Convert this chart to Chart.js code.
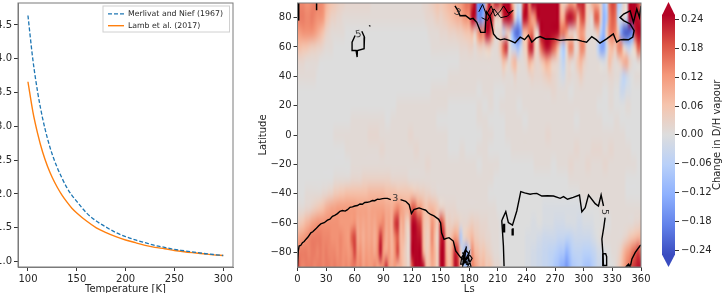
<!DOCTYPE html>
<html>
<head>
<meta charset="utf-8">
<title>D/H fractionation</title>
<script src="https://cdn.jsdelivr.net/npm/chart.js@4"></script>
<style>
  html, body { margin: 0; padding: 0; background: #fff; overflow: hidden; }
  canvas { position: absolute; top: 0; }
</style>
</head>
<body>
<canvas id="ratioChart" width="250" height="293" style="left:0"></canvas>
<canvas id="mapChart" width="415" height="293" style="left:250px"></canvas>
<canvas id="barChart" width="73" height="293" style="left:650px"></canvas>
<script>
// fractionation factor curves
const temperatures = [100,105,110,115,120,125,130,135,140,145,150,160,170,180,190,200,210,220,230,240,250,260,270,280,290,300];
const merlivat = [4.64,3.99,3.50,3.12,2.82,2.58,2.39,2.23,2.09,1.98,1.89,1.72,1.60,1.51,1.43,1.37,1.32,1.28,1.24,1.21,1.18,1.16,1.14,1.12,1.105,1.09];
const lamb = [3.66,3.22,2.89,2.62,2.41,2.24,2.10,1.98,1.88,1.79,1.72,1.60,1.50,1.43,1.37,1.32,1.28,1.24,1.21,1.19,1.165,1.146,1.13,1.115,1.10,1.09];
const tempTicks = [100,150,200,250,300];
const ratioTicks = [1,1.5,2,2.5,3,3.5,4,4.5];

// change in D/H vapour, in hundredths
// polar rows hold a value every 3 deg of Ls, the quiet middle rows every 6 deg
const lsRange = [0,360];
const latNodes = [-90,-80,-70,-60,-50,-40,-30,-20,-10,0,10,20,30,40,50,60,70,80,90];
const rowS90 = [22,15,14,15,15,15,14,15,15,14, 15,15,14,15,14,14,13,14,13,15, 15,13,14,11,13,12,12,14,11,12, 14,22,12,10,12,8,9,6,4,2, 18,25,25,25,24,8,6,10,8,4, 24,25,12,6,12,24,22,6,-6,-10, -4,14,12,9,7,8,5,6,4,2, 2,1,0,0,0,0,0,0,0,0, -1,-1,-2,-2,-3,-3,-4,-4,-5,-6, -8,-9,-12,-13,-16,-12,-8,-7,-6,-6, -8,-9,-9,-7,-5,-3,-3,-2,0,0, 0,1,3,6,10,14,16,20,22,24, 24];
const rowS80 = [14,15,15,15,14,15,15,14,15,14, 15,14,14,14,13,14,13,13,12,14, 20,12,13,10,12,11,12,10,14,24, 12,10,12,8,13,20,9,6,3,2, 25,25,25,25,10,4,6,12,8,4, 24,25,10,6,12,23,20,4,-8,-14, -4,14,8,7,5,6,4,3,2,1, 1,0,0,0,0,0,0,0,0,0, -1,-1,-2,-2,-3,-3,-4,-4,-5,-5, -6,-7,-8,-8,-12,-9,-6,-5,-5,-5, -6,-6,-6,-5,-4,-2,-2,-1,0,0, 1,1,2,4,8,11,13,16,18,21, 16];
const rowS70 = [10,11,12,13,14,15,15,15,15,14, 14,14,13,13,13,14,13,12,12,18, 20,10,11,9,11,10,11,9,13,22, 14,9,11,8,14,18,8,8,4,2, 24,25,24,23,8,4,5,14,7,3, 22,24,8,5,8,12,10,-8,2,4, 6,8,5,4,3,3,2,2,1,1, 1,0,0,0,0,0,0,0,0,0, -1,-1,-1,-1,-2,-2,-3,-3,-3,-3, -3,-4,-4,-4,-5,-5,-4,-3,-3,-3, -3,-3,-3,-2,-1,0,1,1,1,1, 1,1,1,1,2,3,5,6,7,8, 8];
const rowS60 = [4,5,6,8,9,11,12,13,13,13, 13,13,13,13,13,12,12,12,12,12, 13,10,11,10,11,10,11,10,12,13, 14,10,11,9,20,22,9,10,4,5, 24,25,22,20,8,5,6,13,9,5, 20,16,4,4,3,4,4,2,2,2, 3,4,3,3,2,2,2,1,1,1, 1,0,0,0,0,0,0,0,0,0, 0,0,-1,-1,0,0,-1,-1,-1,-1, -2,-2,-2,-2,-1,-1,-1,-1,-2,-2, -1,-1,-1,-1,0,0,0,0,0,0, 1,1,1,1,1,1,1,1,2,2, 3];
const rowS50 = [1,1,1,2,2,3,4,5,6,7, 9,10,11,11,12,12,12,12,12,12, 12,11,11,11,11,10,11,11,11,11, 11,10,10,9,12,14,12,10,9,10, 18,18,12,12,8,6,8,8,7,5, 3,3,2,2,2,2,1,1,1,1, 1,1,1,1,1,1,1,1,1,1, 0,0,0,0,0,0,0,0,0,0, 0,0,0,0,0,0,-1,-1,-1,-1, -1,-1,-1,-1,-1,-1,-1,-1,-1,-1, 0,0,0,0,0,0,1,1,1,1, 1,1,1,1,1,1,1,1,1,1, 1];
const rowS40 = [0,0,1,1,1,2,3,5,6,7, 7,7,7,8,8,8,7,7,6,6, 6,5,4,3,2,1,1,1,1,1, 1,1,1,1,0,0,0,0,0,0, 0,0,0,0,0,0,0,0,0,0, 1,1,1,1,1,1,1,1,0,0, 0];
const rowS30 = [0,0,0,0,0,0,0,1,1,1, 2,2,3,3,3,3,3,2,2,2, 1,1,1,1,1,1,1,1,1,1, 1,1,1,1,1,0,0,0,0,0, 0,0,0,0,0,0,0,0,1,1, 1,1,1,1,1,1,1,1,0,0, 0];
const rowS20 = [0,0,0,0,0,0,0,0,0,0, 1,1,1,1,1,1,1,1,1,1, 1,1,1,2,1,1,1,1,1,1, 1,1,0,1,1,1,0,0,0,0, 0,0,1,1,1,0,1,1,2,1, 1,2,1,1,2,1,1,1,1,1, 0];
const rowS10 = [0,0,0,0,0,0,0,0,0,1, 1,1,1,1,1,2,1,1,1,1, 1,2,1,1,1,1,1,0,0,1, 0,0,1,1,0,0,0,0,1,1, 1,1,1,1,1,1,1,1,1,2, 1,1,2,2,1,2,1,1,1,0, 0];
const rowEq = [0,0,0,0,0,0,0,1,1,1, 1,1,1,2,2,1,1,1,1,1, 2,1,1,1,1,1,1,0,0,0, 0,0,0,1,1,0,0,1,1,1, 1,1,1,1,2,1,1,1,1,1, 1,1,1,1,1,1,1,1,0,0, 0];
const rowN10 = [0,0,0,0,0,0,0,0,0,0, 1,1,1,1,1,1,0,1,1,1, 1,1,1,1,1,0,0,0,0,0, 0,0,1,1,0,0,0,1,1,1, 0,1,1,1,1,1,1,1,1,0, 1,1,1,1,0,0,1,0,0,0, 0];
const rowN20 = [0,0,0,0,0,0,0,0,0,0, 0,0,0,0,0,0,0,0,1,1, 1,1,1,1,1,1,1,0,0,0, 0,0,1,0,1,0,1,1,1,0, 1,1,1,1,1,1,1,1,1,1, 1,1,1,0,0,1,0,0,1,0, 0];
const rowN30 = [0,0,0,0,0,0,0,0,0,0, 0,0,0,0,0,0,0,0,0,0, 0,0,0,0,1,1,1,1,1,1, 1,1,0,1,1,0,0,1,1,1, 1,1,1,1,1,2,1,1,0,1, 1,1,1,1,0,1,0,-3,-1,0, 0];
const rowN40 = [1,1,1,1,1,1,1,0,0,0, 0,0,0,0,0,0,0,0,0,0, 0,0,0,0,0,0,0,0,0,0, 0,0,0,0,0,0,0,0,0,0, 0,0,0,0,0,0,0,0,0,0, 0,0,0,1,1,1,1,1,1,1, 1,1,1,1,1,1,1,1,1,1, 1,1,2,1,1,1,3,1,1,1, 1,2,3,2,2,2,3,4,5,3, 2,1,-1,-2,1,2,1,1,2,4, 2,1,1,1,1,1,1,1,1,2, 2,1,1,-2,-5,-3,-1,0,1,1, 1];
const rowN50 = [2,2,2,1,1,1,1,1,0,0, 0,0,0,0,0,0,0,0,0,0, 0,0,0,0,0,0,0,0,0,0, 0,0,0,0,0,0,0,0,0,0, 0,0,0,0,0,0,0,0,0,0, 0,0,0,0,0,0,0,1,1,1, 1,1,1,1,1,1,1,1,1,1, 1,2,7,4,1,6,8,2,1,1, 3,9,6,3,2,4,7,10,8,4, 3,2,-2,-5,1,3,1,2,6,8, 4,2,1,1,1,1,0,-1,1,7, 3,1,2,5,9,10,4,1,0,1, 1];
const rowN60 = [7,7,6,6,5,4,4,3,3,2, 1,1,1,0,0,0,0,0,0,0, 0,0,0,0,0,0,0,0,0,0, 0,0,0,0,0,0,0,0,0,0, 0,0,0,0,0,0,0,1,1,1, 1,1,1,1,1,1,1,2,2,2, 3,3,1,3,4,3,4,5,2,1, 2,8,18,22,2,-4,-6,-10,-4,3, 6,22,24,6,3,16,22,25,24,20, 16,8,-3,-8,2,14,14,2,3,14, 14,3,1,1,1,-6,-14,-14,-4,6, 8,5,14,14,2,-3,-5,0,6,18, 16];
const rowN70 = [12,12,13,13,13,13,12,10,8,6, 3,2,1,1,1,1,1,0,0,0, 0,0,0,0,0,0,0,0,0,0, 0,0,0,0,0,0,0,0,0,0, 0,0,0,0,0,0,1,1,1,1, 2,2,2,3,3,3,4,4,5,6, 6,8,3,12,16,14,25,24,14,2, 1,2,-4,2,3,-10,-20,-22,-16,8, 8,14,16,4,2,25,25,25,25,25, 25,24,16,16,12,3,3,2,8,12, 10,2,1,1,2,6,-6,-12,4,14, 16,14,6,-14,-22,-24,-22,-18,22,25, 25];
const rowN80 = [15,15,15,14,14,15,14,13,13,12, 7,5,3,3,2,2,1,1,1,1, 1,1,1,1,1,1,1,1,1,1, 1,1,1,1,1,1,1,1,1,1, 1,1,1,1,1,2,2,2,3,4, 3,4,5,6,7,8,9,9,12,13, 13,25,24,-16,-18,-12,22,25,22,4, 3,4,22,25,25,20,2,-8,-4,24, 24,16,10,14,25,25,25,25,25,25, 25,25,10,10,22,25,24,20,8,18, 20,6,2,2,18,18,4,-12,-8,14, 18,16,-4,0,2,-2,25,25,25,24, 22];
const rowN90 = [14,14,14,13,13,14,15,14,14,13, 9,7,6,5,4,3,3,2,2,2, 2,2,2,2,2,2,1,1,1,1, 1,1,1,1,1,1,1,1,1,1, 1,1,1,1,2,2,3,4,5,6, 5,6,7,8,8,10,11,12,14,16, 16,20,25,-16,-20,-16,8,25,12,22, 22,18,25,25,25,12,2,-2,-1,20, 25,14,25,25,25,25,25,25,25,25, 25,25,8,4,6,12,12,10,22,22, 22,6,4,10,10,8,4,-10,-4,16, 20,18,-8,-6,3,2,25,25,25,20, 14];
const changeRows = [rowS90,rowS80,rowS70,rowS60,rowS50,rowS40,rowS30,rowS20,rowS10,rowEq,rowN10,rowN20,rowN30,rowN40,rowN50,rowN60,rowN70,rowN80,rowN90];

const lsTicks = [0,30,60,90,120,150,180,210,240,270,300,330,360];
const latTicks = [-80,-60,-40,-20,0,20,40,60,80];
const changeTicks = [-0.24,-0.18,-0.12,-0.06,0,0.06,0.12,0.18,0.24];

// contour traces, Ls and latitude
const south3aLs = [0,0.8,1.7,3.5,5.2,7,8.7,11,14,16,19.2,22,24.4,28,31.4,34,36.6,39,41.9,44.5,47.1,50,52.4,55,57.6,60,62.8,65.5,68,70.5,73.3,76,78.5,81,83.8,86,89,91.5,94.2,97.7];
const south3aLat = [-90,-79,-75.7,-75.2,-73.4,-72.6,-71.2,-69.6,-66.7,-66,-64,-62,-60.6,-59.8,-58.1,-57.4,-55.4,-54.8,-53.6,-52,-51.5,-51.9,-50.9,-49.3,-49,-48.4,-48.1,-47,-47.2,-46,-45.9,-45.4,-44.7,-44.8,-43.8,-43.9,-43.4,-43.2,-43.2,-44.1];
const south3bLs = [108,113.4,117,119.4,122,127.4,131,134.4,137,139.6,143,145.9,148,150,151,153.6,156,158.8,163.3,165.8,171,178];
const south3bLat = [-44.1,-45.2,-47.5,-53.6,-50.9,-49.7,-50.6,-51.3,-53,-54.2,-55.1,-56.5,-57.5,-60,-66.7,-71.2,-70.5,-70,-72.3,-79,-83.6,-87];
const south5aLs = [216.5,215.8,214.1,215,218.3,221,225.3,229.8,234,238,243.8,247,250.8,256,262,268.3,275.3,278.8,283,289,295.5,298,301.5,305,312,315.4,318.2,320.7];
const south5aLat = [-89.5,-75.5,-58.5,-57,-52.2,-59.7,-61.5,-51.8,-38.6,-39.5,-40.4,-40,-39.8,-41.6,-41.4,-41.6,-43.2,-42,-43.8,-42.5,-40.9,-52.4,-49.5,-40.9,-46.8,-48.4,-40.9,-48.4];
const south5bLs = [322.4,321,319,320,320.7];
const south5bLat = [-56.3,-63,-71,-80,-89.5];
const ring1Ls = [215.5,217,217,215.5,215.5];
const ring1Lat = [-61,-61,-66,-66,-61];
const ring2Ls = [225,226,226,225,225];
const ring2Lat = [-64,-64,-68,-68,-64];
const ring3Ls = [320,323,324,324,320,320];
const ring3Lat = [-81,-81,-83,-89,-89,-81];
const cornerLs = [349,350.5,354,359,360];
const cornerLat = [-89,-84.5,-80,-75.5,-75];
const cornerLoopLs = [344,347,349,344];
const cornerLoopLat = [-90,-88,-90,-90];
const clusterLs = [171,174,173,177,175,180,178,183,176,172,171,174,179,182,177,173];
const clusterLat = [-84,-82,-90,-76,-86,-80,-90,-84,-78,-84,-88,-88,-83,-90,-88,-80];
const north3Ls = [165,168,170.4,176,181,184,187.9,192,196.6,198,202,205.4,209,212.4,217,222.9,228,233.4,238,242,245.6,250,254.3,260,268.3,275,282.2,288,292.7,298,303,308.4,313,317,324,331,334.5,338,341.8,346.8,351.4,352.8,348.6,341.8,338,341.8,348.6,352.1,355.6,358.4,360];
const north3Lat = [88,85,81.3,81.5,79,79.5,76.8,70,70,84,80.2,68.9,66,64.9,65.5,64.4,62.8,66.7,65,68,63.3,66,67.1,65.5,65.5,64.5,64.9,65,64.9,64,63.3,67.1,65,62.6,65.5,68.9,63.3,64.9,65.1,64.9,66.7,71.2,75.7,78,80.2,82.5,84.7,76.8,85.9,80.2,88];
const northScribbleLs = [190,194,198,203,207,212,216,221,226,220,213,206,199,193];
const northScribbleLat = [84,89,82,88,81,84,88,83,85,81,80,86,78,80];
const loop5aLs = [67.4,70.2,69.8,62.8,62.5,61.4,57.9,57.2,60.4];
const loop5aLat = [70.7,66.7,58.8,57.6,53.1,57.6,57.6,63.3,67.8];
const cornerMarkLs = [1,1,0.5];
const cornerMarkLat = [90,78,84];
const topMarkLs = [20,20];
const topMarkLat = [90,85];
const specLs = [75.4,75.6];
const specLat = [74.3,74.8];

const coolwarmStops = [[58,76,192],[98,130,234],[141,176,254],[184,208,249],[221,221,221],[245,196,173],[244,151,121],[220,84,68],[180,4,38]];
const CHANGE_LIMIT = 0.25;
const MERLIVAT_DASH = [4, 2];
const TEXT_COLOR = '#262626';
const SPINE_COLOR = '#7a7a7a';
const FONT = 'DejaVu Sans';

function colourFor(value) {
    let t = (value + CHANGE_LIMIT) / (2 * CHANGE_LIMIT);
    t = Math.max(0, Math.min(1, t)) * (coolwarmStops.length - 1);
    const i = Math.min(Math.floor(t), coolwarmStops.length - 2);
    const f = t - i;
    return coolwarmStops[i].map((c, k) => Math.round(c + (coolwarmStops[i + 1][k] - c) * f));
}

function pairs(xs, ys) {
    return xs.map((x, i) => ({ x: x, y: ys[i] }));
}

function fixedTicks(values) {
    return axis => { axis.ticks = values.map(v => ({ value: v })); };
}

function minusSign(v) {
    return String(v).replace('-', '\u2212');
}

// fix an axis' thickness and stop it reserving room for overhanging labels
function fixedSize(prop, size) {
    return axis => {
        axis[prop] = size;
        axis.paddingLeft = axis.paddingRight = axis.paddingTop = axis.paddingBottom = 0;
    };
}

const axisGrid = { drawOnChartArea: false, tickLength: 4, tickColor: '#333', tickWidth: 1 };
const axisBorder = { color: SPINE_COLOR, width: 1 };

// the four spines of an axes box
const framePlugin = {
    id: 'frame',
    afterDraw(chart) {
        const a = chart.chartArea, ctx = chart.ctx;
        ctx.save();
        ctx.strokeStyle = SPINE_COLOR;
        ctx.lineWidth = 1;
        ctx.strokeRect(a.left, a.top, a.right - a.left, a.bottom - a.top);
        ctx.restore();
    }
};

// legend sits in the upper right of the axes, with a light frame behind it
const legendBoxPlugin = {
    id: 'legendBox',
    beforeDraw(chart) {
        const legend = chart.legend, ctx = chart.ctx;
        legend.left = 104; legend.right = 230;
        legend.top = 6; legend.bottom = 100;
        ctx.save();
        ctx.strokeStyle = '#d0d0d0';
        ctx.lineWidth = 1;
        ctx.strokeRect(103, 6, 126.5, 26);
        ctx.restore();
    }
};

new Chart(document.getElementById('ratioChart'), {
    type: 'line',
    data: {
        datasets: [
            { label: 'Merlivat and Nief (1967)', data: pairs(temperatures, merlivat), borderColor: '#1f77b4', backgroundColor: '#1f77b4', borderWidth: 1.3, borderDash: MERLIVAT_DASH, pointRadius: 0, pointStyle: 'line', cubicInterpolationMode: 'monotone' },
            { label: 'Lamb et al. (2017)', data: pairs(temperatures, lamb), borderColor: '#ff7f0e', backgroundColor: '#ff7f0e', borderWidth: 1.4, pointRadius: 0, pointStyle: 'line', cubicInterpolationMode: 'monotone' }
        ]
    },
    options: {
        responsive: false,
        animation: false,
        layout: { padding: { top: 3, right: 17, left: 0, bottom: 0 } },
        plugins: {
            tooltip: { enabled: false },
            legend: {
                position: 'chartArea',
                align: 'start',
                labels: {
                    usePointStyle: true, pointStyleWidth: 16, boxHeight: 8, padding: 4,
                    color: TEXT_COLOR, font: { family: FONT, size: 7.8 },
                    // point style entries drop the line dash, put it back
                    generateLabels(chart) {
                        const items = Chart.defaults.plugins.legend.labels.generateLabels(chart);
                        items[0].lineDash = MERLIVAT_DASH;
                        return items;
                    }
                }
            }
        },
        scales: {
            x: {
                type: 'linear', min: 89.8, max: 310,
                afterBuildTicks: fixedTicks(tempTicks),
                afterFit: fixedSize('height', 26),
                grid: axisGrid, border: axisBorder,
                ticks: { color: TEXT_COLOR, font: { family: FONT, size: 10 }, padding: 2, maxRotation: 0 },
                title: { display: true, text: 'Temperature [K]', color: TEXT_COLOR, font: { family: FONT, size: 10 }, padding: { top: 0, bottom: -2 } }
            },
            y: {
                type: 'linear', min: 0.92, max: 4.825,
                afterBuildTicks: fixedTicks(ratioTicks),
                afterFit: fixedSize('width', 18),
                grid: axisGrid, border: axisBorder,
                ticks: { color: TEXT_COLOR, font: { family: FONT, size: 10 }, padding: 2, callback: v => v.toFixed(1) }
            }
        }
    },
    plugins: [legendBoxPlugin, framePlugin]
});

// colour field: one texel per node, stretched over the axes by the scales
const heatmapPlugin = {
    id: 'heatmap',
    beforeDatasetsDraw(chart) {
        const nx = Math.max(...changeRows.map(r => r.length)), ny = latNodes.length;
        const off = document.createElement('canvas');
        off.width = nx; off.height = ny;
        const octx = off.getContext('2d');
        const img = octx.createImageData(nx, ny);
        changeRows.forEach((row, r) => {
            for (let c = 0; c < nx; c++) {
                const v = row[Math.round(c * (row.length - 1) / (nx - 1))];
                const rgb = colourFor(v / 100);
                const p = ((ny - 1 - r) * nx + c) * 4;
                img.data[p] = rgb[0]; img.data[p + 1] = rgb[1]; img.data[p + 2] = rgb[2]; img.data[p + 3] = 255;
            }
        });
        octx.putImageData(img, 0, 0);
        const xs = chart.scales.x, ys = chart.scales.y, ctx = chart.ctx;
        const x0 = xs.getPixelForValue(lsRange[0]), x1 = xs.getPixelForValue(lsRange[1]);
        const y0 = ys.getPixelForValue(latNodes[ny - 1]), y1 = ys.getPixelForValue(latNodes[0]);
        ctx.save();
        ctx.imageSmoothingEnabled = true;
        ctx.imageSmoothingQuality = 'high';
        ctx.drawImage(off, 0.5, 0.5, nx - 1, ny - 1, x0, y0, x1 - x0, y1 - y0);
        ctx.restore();
    }
};

// inline contour labels
const contourLabels = [
    { text: '3', ls: 102.5, lat: -43.6, angle: 0 },
    { text: '3', ls: 167.5, lat: 83.5, angle: 0.5 },
    { text: '5', ls: 64, lat: 68.5, angle: -0.2 },
    { text: '5', ls: 321.5, lat: -52.5, angle: Math.PI / 2 }
];
const contourLabelPlugin = {
    id: 'contourLabels',
    afterDatasetsDraw(chart) {
        const xs = chart.scales.x, ys = chart.scales.y, ctx = chart.ctx;
        ctx.save();
        ctx.fillStyle = '#333';
        ctx.font = '9.5px "' + FONT + '"';
        ctx.textAlign = 'center';
        ctx.textBaseline = 'middle';
        contourLabels.forEach(l => {
            ctx.save();
            ctx.translate(xs.getPixelForValue(l.ls), ys.getPixelForValue(l.lat));
            ctx.rotate(l.angle);
            ctx.fillText(l.text, 0, 0);
            ctx.restore();
        });
        ctx.restore();
    }
};

function contour(xs, ys, width) {
    return { data: pairs(xs, ys), showLine: true, borderColor: '#000', borderWidth: width || 1.4, pointRadius: 0, tension: 0 };
}

new Chart(document.getElementById('mapChart'), {
    type: 'scatter',
    data: {
        datasets: [
            contour(south3aLs, south3aLat),
            contour(south3bLs, south3bLat),
            contour(south5aLs, south5aLat),
            contour(south5bLs, south5bLat),
            contour(ring1Ls, ring1Lat),
            contour(ring2Ls, ring2Lat),
            contour(ring3Ls, ring3Lat),
            contour(cornerLs, cornerLat),
            contour(cornerLoopLs, cornerLoopLat),
            contour(clusterLs, clusterLat, 1.2),
            contour(north3Ls, north3Lat),
            contour(northScribbleLs, northScribbleLat, 1),
            contour(loop5aLs, loop5aLat),
            contour(cornerMarkLs, cornerMarkLat, 2),
            contour(topMarkLs, topMarkLat, 1.5),
            contour(specLs, specLat, 1.5)
        ]
    },
    options: {
        responsive: false,
        animation: false,
        layout: { padding: { top: 3, right: 24, left: 0, bottom: 0 } },
        plugins: { legend: { display: false }, tooltip: { enabled: false } },
        scales: {
            x: {
                type: 'linear', min: 0, max: 360,
                afterBuildTicks: fixedTicks(lsTicks),
                afterFit: fixedSize('height', 26),
                grid: axisGrid, border: axisBorder,
                ticks: { color: TEXT_COLOR, font: { family: FONT, size: 10 }, padding: 2, maxRotation: 0, autoSkip: false },
                title: { display: true, text: 'Ls', color: TEXT_COLOR, font: { family: FONT, size: 10 }, padding: { top: 0, bottom: -2 } }
            },
            y: {
                type: 'linear', min: -90, max: 90,
                afterBuildTicks: fixedTicks(latTicks),
                afterFit: fixedSize('width', 47.5),
                grid: axisGrid, border: axisBorder,
                ticks: { color: TEXT_COLOR, font: { family: FONT, size: 10 }, padding: 2, callback: minusSign },
                title: { display: true, text: 'Latitude', color: TEXT_COLOR, font: { family: FONT, size: 10 }, padding: { top: 7, bottom: 0 } }
            }
        }
    },
    plugins: [heatmapPlugin, contourLabelPlugin, framePlugin]
});

// colour bar with extension triangles, laid out by its own value scale
const colourBarPlugin = {
    id: 'colourBar',
    beforeDatasetsDraw(chart) {
        const a = chart.chartArea, y = chart.scales.y, ctx = chart.ctx;
        const top = y.getPixelForValue(CHANGE_LIMIT), bottom = y.getPixelForValue(-CHANGE_LIMIT);
        const grad = ctx.createLinearGradient(0, bottom, 0, top);
        coolwarmStops.forEach((c, i) => grad.addColorStop(i / (coolwarmStops.length - 1), 'rgb(' + c.join(',') + ')'));
        ctx.save();
        ctx.fillStyle = grad;
        ctx.fillRect(a.left, top, a.right - a.left, bottom - top);
        const mid = (a.left + a.right) / 2;
        ctx.fillStyle = 'rgb(' + coolwarmStops[coolwarmStops.length - 1].join(',') + ')';
        ctx.beginPath();
        ctx.moveTo(a.left, top + 0.5); ctx.lineTo(mid, a.top); ctx.lineTo(a.right, top + 0.5);
        ctx.closePath(); ctx.fill();
        ctx.fillStyle = 'rgb(' + coolwarmStops[0].join(',') + ')';
        ctx.beginPath();
        ctx.moveTo(a.left, bottom - 0.5); ctx.lineTo(mid, a.bottom); ctx.lineTo(a.right, bottom - 0.5);
        ctx.closePath(); ctx.fill();
        ctx.restore();
    },
    afterDraw(chart) {
        // reads bottom to top, which a right hand axis title cannot do
        const y = chart.scales.y, ctx = chart.ctx;
        ctx.save();
        ctx.translate(67, y.getPixelForValue(0));
        ctx.rotate(-Math.PI / 2);
        ctx.fillStyle = TEXT_COLOR;
        ctx.font = '10px "' + FONT + '"';
        ctx.textAlign = 'center';
        ctx.textBaseline = 'middle';
        ctx.fillText('Change in D/H vapour', 0, 0);
        ctx.restore();
    }
};

new Chart(document.getElementById('barChart'), {
    type: 'scatter',
    data: { datasets: [{ data: [] }] },
    options: {
        responsive: false,
        animation: false,
        layout: { padding: { top: 2, bottom: 26, left: 12, right: 0 } },
        plugins: { legend: { display: false }, tooltip: { enabled: false } },
        scales: {
            x: { display: false },
            y: {
                position: 'right', type: 'linear', min: -0.275, max: 0.2765,
                afterBuildTicks: fixedTicks(changeTicks),
                afterFit: fixedSize('width', 48),
                grid: axisGrid, border: { display: false },
                ticks: { color: TEXT_COLOR, font: { family: FONT, size: 10 }, padding: 2, callback: v => minusSign(v.toFixed(2)) }
            }
        }
    },
    plugins: [colourBarPlugin]
});
</script>
</body>
</html>
